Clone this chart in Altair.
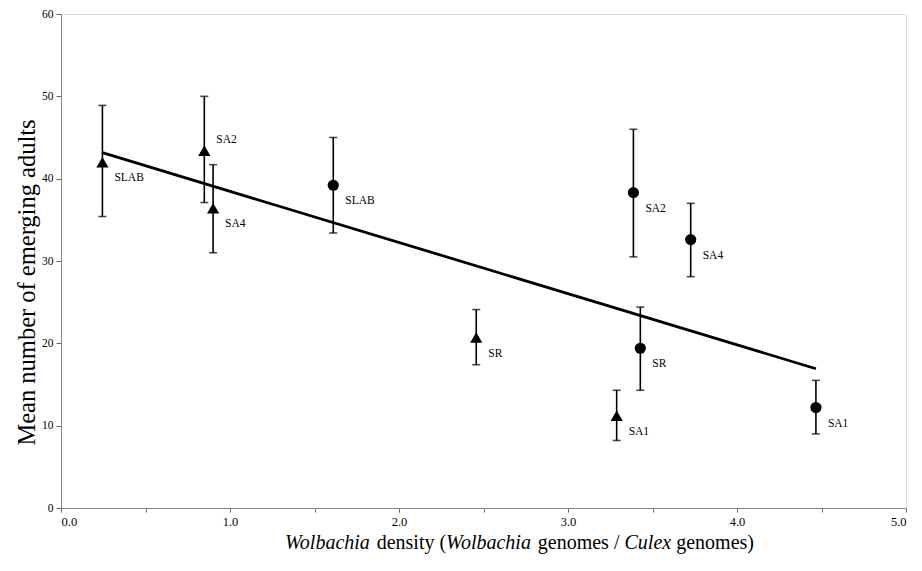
import altair as alt
import pandas as pd

# ---- data ----
groups = ["triangle"] * 5 + ["circle"] * 5
labels = ["SLAB", "SA2", "SA4", "SR", "SA1", "SLAB", "SA2", "SA4", "SR", "SA1"]
density = [0.245, 0.848, 0.90, 2.457, 3.288, 1.611, 3.387, 3.726, 3.428, 4.467]
mean_adults = [42.0, 43.4, 36.4, 20.7, 11.2, 39.2, 38.3, 32.6, 19.4, 12.2]
lower = [35.4, 37.1, 31.0, 17.4, 8.2, 33.4, 30.5, 28.1, 14.3, 9.0]
upper = [48.9, 50.0, 41.7, 24.1, 14.3, 45.0, 46.0, 37.0, 24.4, 15.5]

x_ticks = [0, 0.5, 1, 1.5, 2, 2.5, 3, 3.5, 4, 4.5, 5]
y_ticks = [0, 10, 20, 30, 40, 50, 60]

y_title = "Mean number of emerging adults"
x_title_segments = ["Wolbachia", "density (", "Wolbachia", "genomes /", "Culex", "genomes)"]
x_title_italic = [True, False, True, False, True, False]

df = pd.DataFrame({
    "group": groups, "label": labels, "density": density,
    "mean": mean_adults, "lower": lower, "upper": upper,
})

W, H = 845, 494
FONT = "Liberation Serif"

xs = alt.Scale(domain=[0, 5], nice=False, zero=False)
ys = alt.Scale(domain=[0, 60], nice=False)

base = alt.Chart(df)

x_enc = alt.X("density:Q", scale=xs, axis=alt.Axis(
    values=x_ticks, title=None,
    labelExpr="datum.value % 1 == 0 ? format(datum.value, '.1f') : ''",
    labelFont=FONT, labelFontSize=12.5, labelColor="#000", labelPadding=3,
    tickSize=4, tickColor="#666", domainColor="#888", grid=False))
y_enc = alt.Y("mean:Q", scale=ys, axis=alt.Axis(
    values=y_ticks, title=y_title, titleFont=FONT, titleFontSize=24.5,
    titleFontWeight="normal", titleColor="#000", titleX=-34, titleY=268,
    titleAngle=-90, titleAlign="center", titleBaseline="middle",
    labelFont=FONT, labelFontSize=11.5, labelColor="#000", labelPadding=3,
    tickSize=5, tickColor="#666", domainColor="#888", grid=False))

bars = base.mark_rule(color="black", strokeWidth=1.6).encode(
    x=alt.X("density:Q", scale=xs), y=alt.Y("lower:Q", scale=ys), y2="upper:Q")
cap_hi = base.mark_tick(color="black", size=8, thickness=1.6, orient="horizontal").encode(
    x=alt.X("density:Q", scale=xs), y=alt.Y("upper:Q", scale=ys))
cap_lo = base.mark_tick(color="black", size=8, thickness=1.6, orient="horizontal").encode(
    x=alt.X("density:Q", scale=xs), y=alt.Y("lower:Q", scale=ys))

reg = base.transform_regression("density", "mean").mark_line(
    color="black", strokeWidth=2.8).encode(x=x_enc, y=y_enc)

pts = base.mark_point(filled=True, opacity=1, color="black").encode(
    x=alt.X("density:Q", scale=xs), y=alt.Y("mean:Q", scale=ys),
    shape=alt.Shape("group:N", scale=alt.Scale(domain=["triangle", "circle"],
                                               range=["triangle-up", "circle"]), legend=None),
    size=alt.Size("group:N", scale=alt.Scale(domain=["triangle", "circle"],
                                             range=[150, 125]), legend=None))

lab_main = base.transform_filter(
    "!(datum.group == 'triangle' && datum.label == 'SA2')").mark_text(
    align="left", baseline="middle", dx=12, dy=16, font=FONT, fontSize=11.5,
    color="black").encode(x=alt.X("density:Q", scale=xs), y=alt.Y("mean:Q", scale=ys),
                          text="label:N")
lab_up = base.transform_filter(
    "datum.group == 'triangle' && datum.label == 'SA2'").mark_text(
    align="left", baseline="middle", dx=12, dy=-11, font=FONT, fontSize=11.5,
    color="black").encode(x=alt.X("density:Q", scale=xs), y=alt.Y("mean:Q", scale=ys),
                          text="label:N")

# x-axis title with mixed italic parts
widths = [86.7, 69.4, 86.7, 81.7, 46.7, 77.8]
gaps = [5, 0, 5, 5, 5, 0]
start = 224
title_layers = []
pos = start
for seg, it, w, g in zip(x_title_segments, x_title_italic, widths, gaps):
    t = alt.Chart(pd.DataFrame({"t": [seg]})).mark_text(
        align="left", baseline="alphabetic", font=FONT, fontSize=20,
        fontStyle="italic" if it else "normal", color="black").encode(
        text="t:N", x=alt.value(pos), y=alt.value(H + 41))
    title_layers.append(t)
    pos += w + g

chart = alt.layer(reg, bars, cap_hi, cap_lo, pts, lab_main, lab_up, *title_layers).properties(
    width=W, height=H,
    autosize=alt.AutoSizeParams(type="none"),
    padding={"left": 53, "top": 6, "right": 8, "bottom": 50},
).configure_view(stroke=None).configure(background="white")

chart.save("out.html", embed_options={"renderer": "svg", "actions": False})
